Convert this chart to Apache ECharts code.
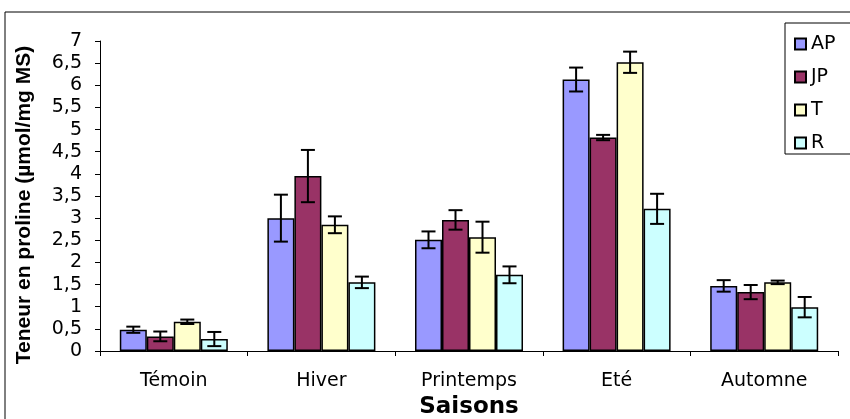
<!DOCTYPE html>
<html><head><meta charset="utf-8">
<script src="https://cdn.jsdelivr.net/npm/echarts@6/dist/echarts.min.js"></script>
<style>html,body{margin:0;padding:0;background:#fff;overflow:hidden}#c{width:850px;height:419px}</style>
</head><body><div id="c"></div>
<script>
const categories = ['Témoin', 'Hiver', 'Printemps', 'Eté', 'Automne'];
const seriesNames = ['AP', 'JP', 'T', 'R'];
const AP = [0.48, 3.00, 2.51, 6.13, 1.47];
const JP = [0.33, 3.95, 2.96, 4.82, 1.33];
const T  = [0.66, 2.85, 2.57, 6.52, 1.55];
const R  = [0.27, 1.55, 1.72, 3.21, 0.99];
const AP_err = [0.07, 0.53, 0.19, 0.27, 0.13];
const JP_err = [0.11, 0.59, 0.22, 0.06, 0.16];
const T_err  = [0.05, 0.19, 0.35, 0.24, 0.04];
const R_err  = [0.16, 0.13, 0.19, 0.34, 0.23];
const colors = ['#9999FF', '#993366', '#FFFFCC', '#CCFFFF'];

const values = [AP, JP, T, R];
const errs = [AP_err, JP_err, T_err, R_err];
const BAR_W = 27;
const FONT = 'DejaVu Sans, sans-serif';

const chart = echarts.init(document.getElementById('c'), null, {renderer: 'canvas'});
const series = [];
seriesNames.forEach((name, i) => {
  series.push({
    name: name, type: 'bar', data: values[i], barWidth: BAR_W, barGap: '0%',
    itemStyle: {color: colors[i], borderColor: '#000', borderWidth: 1.5},
    emphasis: {disabled: true}
  });
});
seriesNames.forEach((name, i) => {
  series.push({
    type: 'custom', name: name + '_err',
    data: categories.map((c, k) => [k, values[i][k] - errs[i][k], values[i][k] + errs[i][k]]),
    renderItem: function (params, api) {
      const lo = api.coord([api.value(0), api.value(1)]);
      const hi = api.coord([api.value(0), api.value(2)]);
      const x = lo[0] - 2 * BAR_W + BAR_W / 2 + BAR_W * i;
      const hw = 7;
      const st = {stroke: '#000', lineWidth: 2};
      return {type: 'group', children: [
        {type: 'line', shape: {x1: x, y1: lo[1], x2: x, y2: hi[1]}, style: st},
        {type: 'line', shape: {x1: x - hw, y1: lo[1], x2: x + hw, y2: lo[1]}, style: st},
        {type: 'line', shape: {x1: x - hw, y1: hi[1], x2: x + hw, y2: hi[1]}, style: st}
      ]};
    },
    z: 10, silent: true
  });
});

chart.setOption({
  animation: false,
  backgroundColor: '#fff',
  textStyle: {fontFamily: FONT},
  grid: {left: 100, right: 12, top: 41, bottom: 68, containLabel: false, outerBoundsMode: 'none'},
  legend: {
    data: seriesNames, orient: 'vertical', left: 789, top: 29,
    icon: 'rect', itemWidth: 11, itemHeight: 11, itemGap: 13,
    textStyle: {fontSize: 19, color: '#000', lineHeight: 20, fontFamily: FONT},
    selectedMode: false
  },
  xAxis: {
    type: 'category', data: categories,
    name: 'Saisons', nameLocation: 'middle', nameGap: 42,
    nameTextStyle: {fontSize: 23, fontWeight: 'bold', color: '#000', fontFamily: FONT},
    axisLine: {lineStyle: {color: '#000', width: 1}},
    axisTick: {show: true, length: 5, lineStyle: {color: '#000'}},
    axisLabel: {fontSize: 19, color: '#000', margin: 21, fontFamily: FONT}
  },
  yAxis: {
    type: 'value', min: 0, max: 7, interval: 0.5,
    name: 'Teneur en proline (µmol/mg MS)', nameLocation: 'middle', nameGap: 65, nameRotate: 90,
    nameTextStyle: {fontSize: 21, fontWeight: 'bold', color: '#000', fontFamily: 'Liberation Sans, Arial, sans-serif', padding: [0, 18, 0, 0]},
    axisLine: {show: true, lineStyle: {color: '#000', width: 1}},
    axisTick: {show: true, length: 5, lineStyle: {color: '#000'}},
    splitLine: {show: false},
    axisLabel: {fontSize: 19, color: '#000', margin: 18, fontFamily: FONT, formatter: v => String(v).replace('.', ',')}
  },
  graphic: [
    {type: 'rect', shape: {x: 5, y: 12, width: 900, height: 500}, style: {fill: 'none', stroke: '#000', lineWidth: 1}, z: -1},
    {type: 'rect', shape: {x: 785, y: 23, width: 100, height: 131}, style: {fill: '#fff', stroke: '#000', lineWidth: 1}, z: 0}
  ],
  series: series
});
</script></body></html>
